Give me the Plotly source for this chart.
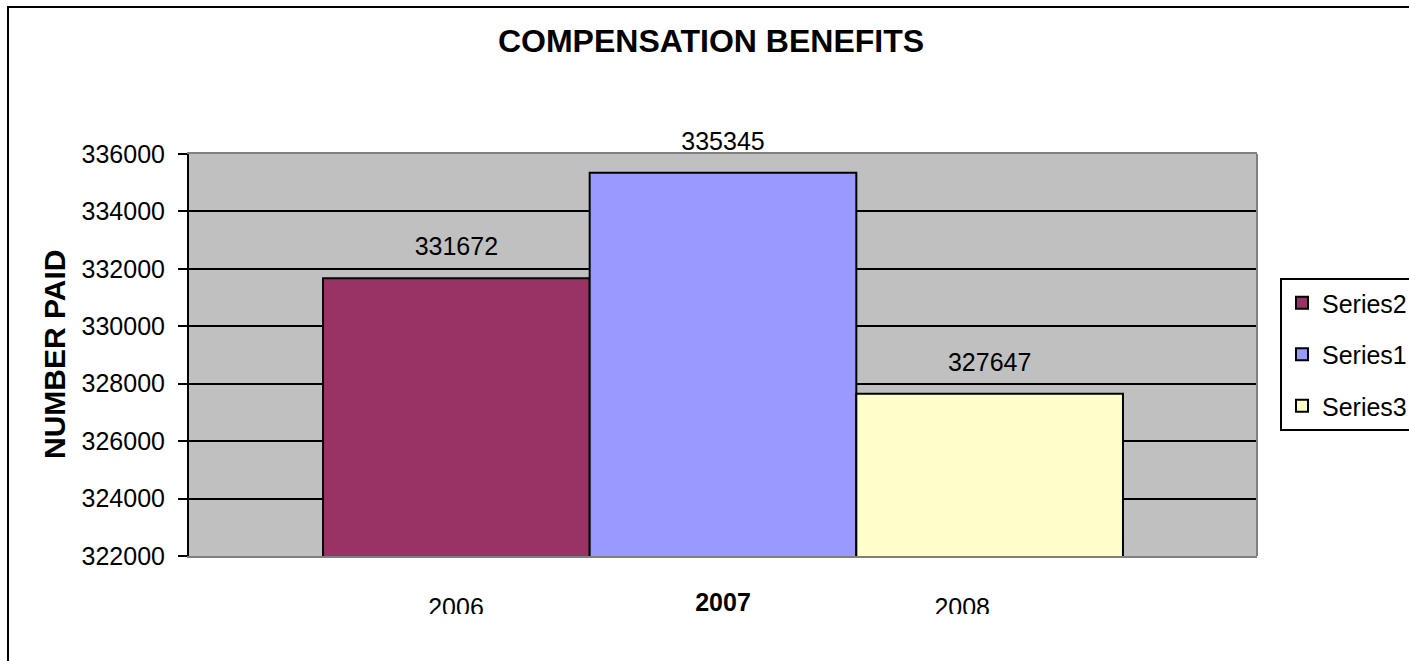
import plotly.graph_objects as go

# ---------------- data ----------------
categories = ["2007"]
series_names = ["Series2", "Series1", "Series3"]
series_values = [[331672], [335345], [327647]]
series_colors = ["#993366", "#9999FF", "#FFFFCC"]
side_labels = ["2006", "2008"]
side_label_pos = [-0.25, 0.224]   # layout positions of the two text-box labels
y_ticks = [322000, 324000, 326000, 328000, 330000, 332000, 334000, 336000]

# ---------------- layout geometry ----------------
W, H = 1409, 661
L, R, T, B = 189, 152, 154, 47
PW, PH = W - L - R, H - T - B


def px_x(px):
    return (px - L) / PW


def px_y(py):
    return (H - B - py) / PH


FONT = "Liberation Sans, Arial, sans-serif"

fig = go.Figure()

for name, vals, col in zip(series_names, series_values, series_colors):
    fig.add_trace(go.Bar(
        x=categories, y=vals, name=name,
        marker=dict(color=col, line=dict(color="black", width=2)),
        texttemplate="<span style='font-size:25px'>%{y}</span><br> ",
        textposition="outside",
        textfont=dict(size=13, color="black", family=FONT),
        cliponaxis=False,
        legendgroup=name,
    ))

# clipped text-box labels below the plot
fig.add_trace(go.Scatter(
    x=side_label_pos, y=[0.07, 0.07], text=side_labels,
    mode="text", textposition="middle center",
    textfont=dict(size=25, color="black", family=FONT),
    xaxis="x2", yaxis="y2", cliponaxis=True, showlegend=False,
    hoverinfo="skip",
))

fig.update_layout(
    width=W, height=H,
    margin=dict(l=L, r=R, t=T, b=B, autoexpand=False),
    paper_bgcolor="white",
    plot_bgcolor="white",
    barmode="group",
    bargap=0.251,
    bargroupgap=0,
    font=dict(family=FONT, color="black"),
    title=dict(
        text="<b>COMPENSATION BENEFITS</b>",
        x=711 / W, xanchor="center",
        y=1 - 41 / H, yanchor="middle", yref="container",
        font=dict(size=32, family=FONT, color="black"),
    ),
    xaxis=dict(
        type="category",
        showgrid=False,
        showline=True, mirror=True, linecolor="#808080", linewidth=2,
        ticks="",
        tickfont=dict(size=25, family=FONT, weight="bold"),
        ticklabelstandoff=23,
        layer="below traces",
        anchor="y",
    ),
    yaxis=dict(
        domain=[px_y(556), 1],
        range=[322000, 336000],
        tickvals=y_ticks,
        tickformat="d",
        showgrid=True, gridcolor="black", gridwidth=2,
        showline=True, linecolor="black", linewidth=2,
        ticks="outside", ticklen=9, tickwidth=2, tickcolor="black",
        tickfont=dict(size=25, family=FONT),
        ticklabelstandoff=8,
        zeroline=False,
        layer="below traces",
    ),
    xaxis2=dict(
        domain=[0, 1], range=[-0.5, 0.5], anchor="y2",
        visible=False, showgrid=False, zeroline=False,
    ),
    yaxis2=dict(
        domain=[0, px_y(560)], range=[0, 1], anchor="x2",
        visible=False, showgrid=False, zeroline=False,
    ),
    legend=dict(
        x=px_x(1280), xanchor="left",
        y=px_y(278), yanchor="top",
        bgcolor="white", bordercolor="black", borderwidth=2,
        font=dict(size=25, family=FONT, color="black"),
        tracegroupgap=16,
        itemwidth=30,
    ),
    showlegend=True,
    shapes=[
        # grey plot-area background (main subplot only)
        dict(type="rect", xref="x domain", yref="y domain",
             x0=0, x1=1, y0=0, y1=1,
             fillcolor="#C0C0C0", line=dict(width=0), layer="below"),
        # outer chart-area border
        dict(type="rect", xref="paper", yref="paper",
             x0=px_x(8), x1=px_x(1480), y0=px_y(690), y1=px_y(7),
             line=dict(color="black", width=2), fillcolor="rgba(0,0,0,0)",
             layer="below"),
        # right border of the plot area
        dict(type="line", xref="paper", yref="y domain",
             x0=1, x1=1, y0=0, y1=1,
             line=dict(color="#808080", width=2), layer="above"),
    ],
    annotations=[
        dict(text="<b>NUMBER PAID</b>", textangle=-90,
             x=px_x(54), xref="paper", xanchor="center",
             y=(px_y(556) + 1) / 2, yref="paper", yanchor="middle",
             showarrow=False, font=dict(size=30, family=FONT, color="black")),
    ],
)

fig.write_html("out.html", config={"displayModeBar": False},
               post_script="document.body.style.margin='0px';")
